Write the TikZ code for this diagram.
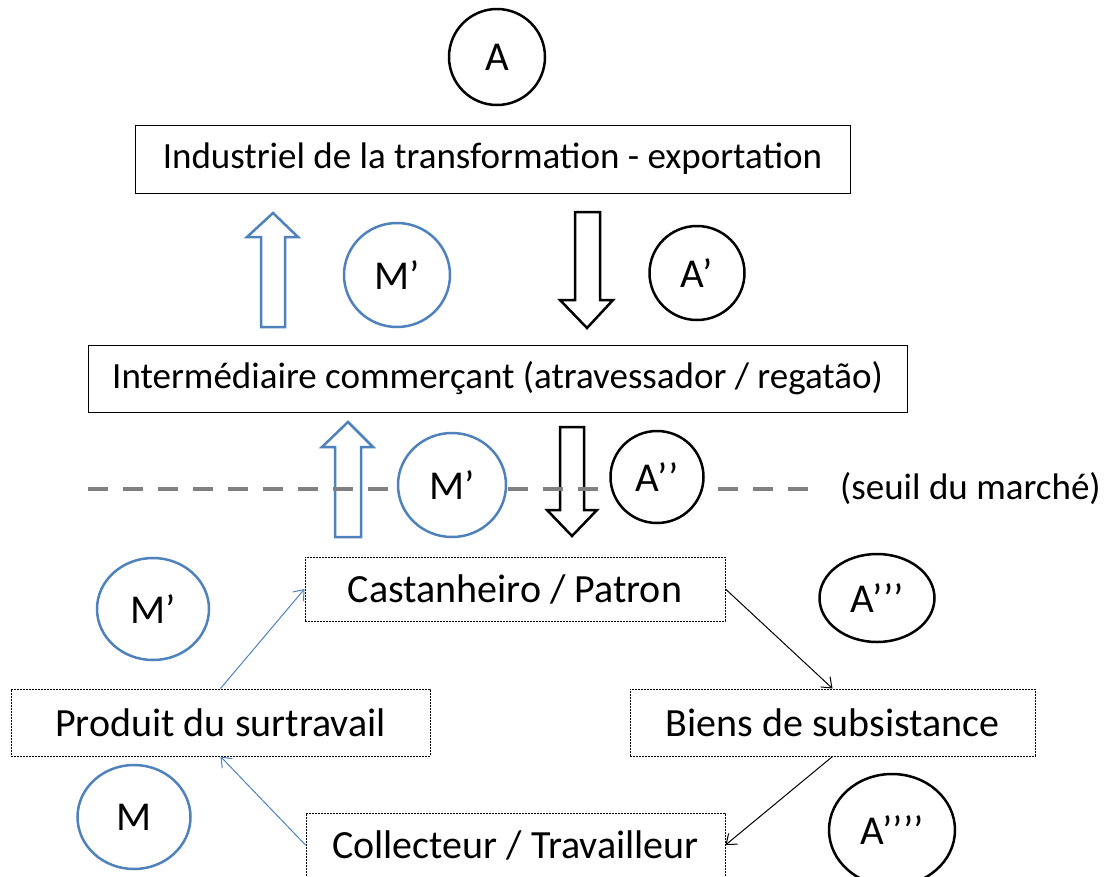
\documentclass[tikz,border=0pt]{standalone}
\usepackage{fontspec}
\setmainfont{Carlito}
\usetikzlibrary{shapes.geometric,arrows.meta}
\definecolor{myblue}{HTML}{4F81BD}
\definecolor{mygray}{HTML}{808080}
\begin{document}
\begin{tikzpicture}[
    x=1pt, y=-1pt,
    mybox/.style={rectangle, draw=black, line width=1pt, inner sep=0pt, font=\fontsize{37}{44}\selectfont},
    mydot/.style={rectangle, draw=black, line width=1pt, dash pattern=on 2pt off 1pt, inner sep=0pt, font=\fontsize{40}{48}\selectfont},
    mycirc/.style={ellipse, draw=black, fill=white, line width=2.5pt, inner sep=0pt, font=\fontsize{41}{48}\selectfont},
    mybcirc/.style={mycirc, draw=myblue},
    myfat/.style={line width=2.5pt, line join=miter},
    myarrow/.style={-{Straight Barb[length=9pt,width=14pt]}, line width=1pt}
]
    \useasboundingbox (0,0) rectangle (1109,876);

    % Top level
    \node[mycirc, minimum width=96, minimum height=96] (A) at (497,57) {A};
    \node[mybox, minimum width=715, minimum height=68] (ind) at (492.5,159) {Industriel de la transformation - exportation};

    % Flows between industriel and intermediaire
    \draw[myfat, myblue] (261,327) -- (261,237) -- (247,237) -- (273,213) -- (298,237) -- (285,237) -- (285,327) -- cycle;
    \draw[myfat] (575,212) -- (575,300) -- (560,300) -- (587,328) -- (613,300) -- (600,300) -- (600,212) -- cycle;
    \node[mybcirc, minimum width=106, minimum height=104] (M1) at (397,275) {M’};
    \node[mycirc, minimum width=95, minimum height=94] (A1) at (697,273) {A’};

    % Intermediaire
    \node[mybox, minimum width=819, minimum height=67] (inter) at (497.5,378.5) {Intermédiaire commerçant (atravessador / regatão)};

    % Flows across the market threshold
    \draw[myfat, myblue] (335,537) -- (335,447) -- (322,447) -- (348,422) -- (373,447) -- (361,447) -- (361,537) -- cycle;
    \draw[myfat] (560,427) -- (560,510) -- (547,510) -- (572,536) -- (597,510) -- (584,510) -- (584,427) -- cycle;
    \draw[mygray, line width=4.5pt, dash pattern=on 20pt off 15pt] (88,489) -- (812,489);
    \node[font=\fontsize{37}{44}\selectfont, anchor=west, inner sep=0pt] (seuil) at (840,489) {(seuil du marché)};
    \node[mybcirc, minimum width=108, minimum height=104] (M2) at (452,485) {M’};
    \node[mycirc, minimum width=93, minimum height=92] (A2) at (657,477) {A’’};

    % Cycle below the threshold
    \node[mydot, minimum width=420, minimum height=64] (cast) at (515,589) {Castanheiro / Patron};
    \node[mydot, minimum width=419, minimum height=67] (prod) at (220.5,722.5) {Produit du surtravail};
    \node[mydot, minimum width=405, minimum height=67] (biens) at (832.5,722.5) {Biens de subsistance};
    \node[mydot, minimum width=419, minimum height=64] (coll) at (515.5,845) {Collecteur / Travailleur};

    \node[mybcirc, minimum width=112, minimum height=102] (M3) at (153,609) {M’};
    \node[mycirc, minimum width=115, minimum height=88] (A3) at (877,598) {A’’’};
    \node[mybcirc, minimum width=113, minimum height=104] (M) at (134,817) {M};
    \node[mycirc, minimum width=126, minimum height=112] (A4) at (892,830) {A’’’’};

    \draw[myarrow, myblue] (prod.north) -- (cast.west);
    \draw[myarrow, myblue] (coll.west) -- (prod.south);
    \draw[myarrow] (cast.east) -- (biens.north);
    \draw[myarrow] (biens.south) -- (coll.east);
\end{tikzpicture}
\end{document}
